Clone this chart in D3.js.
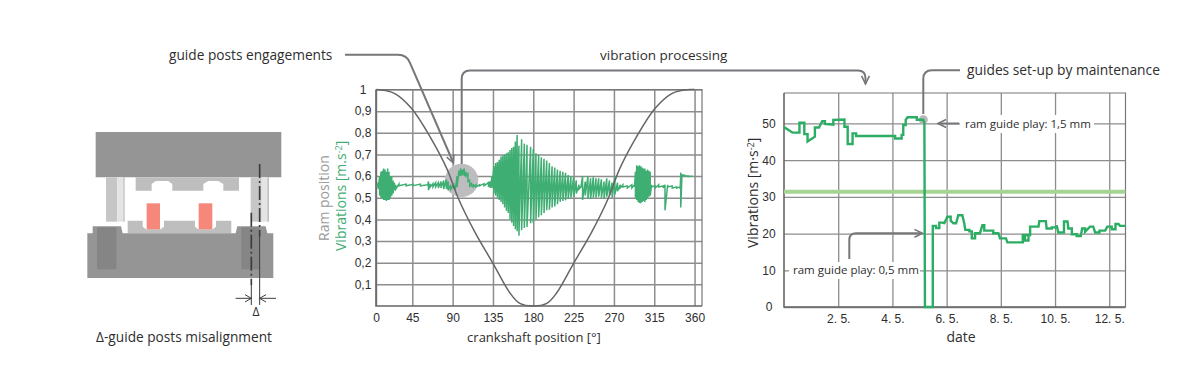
<!DOCTYPE html>
<html>
<head>
<meta charset="utf-8">
<script src="https://cdn.jsdelivr.net/npm/d3@7"></script>
<style>
  html, body { margin: 0; padding: 0; background: #fff; overflow: hidden; }
  svg { display: block; font-family: "Open Sans", sans-serif; }
  text { fill: #2e2e2e; }
</style>
</head>
<body>
<div id="chart"></div>
<script>
// ---- crank chart data (left) ----
const crankTicks = [0, 45, 90, 135, 180, 225, 270, 315, 360];
const ramTicks = [0.1, 0.2, 0.3, 0.4, 0.5, 0.6, 0.7, 0.8, 0.9, 1];

const ramCrank = [5, 15, 26, 44, 65, 84, 96, 115, 135, 154, 165, 180, 195, 206, 225, 245, 264, 276, 295, 316, 334, 345, 355, 360];
const ramValue = [1, 0.995, 0.98, 0.913, 0.78, 0.63, 0.5, 0.34, 0.197, 0.06, 0.012, 0, 0.012, 0.06, 0.197, 0.34, 0.5, 0.63, 0.78, 0.913, 0.98, 0.995, 1, 1];

// each sample is one swing of the accelerometer signal: crank angle, top, bottom
const vibCrank = [5.5, 7, 8.5, 10, 11.5, 13, 14.5, 16, 17.5, 19, 20.5, 22, 23.5, 25, 26.5, 30, 38, 46, 54,
  62, 63, 65, 68, 71, 74, 77, 80, 83, 85, 88, 91, 93, 95, 97, 99, 101, 103, 105, 107, 109, 111, 113, 116, 120, 125, 130, 132,
  134, 136, 138, 140, 142, 144, 146, 148, 150, 152, 154, 156, 158, 160, 162, 164, 167, 170, 173, 177, 180, 183, 186, 189, 192, 195, 198, 201, 204, 207, 210, 213, 216, 219, 222, 225, 228, 231, 233, 235, 238, 241, 244, 247, 250, 253, 256, 259, 262, 265, 268, 271, 274, 277,
  280, 285, 290, 293, 294, 295.5, 297, 298.5, 300, 301.5, 303, 304.5, 306, 307.5, 309, 310.5, 312, 316, 320, 325, 327, 330, 335, 340, 344, 344.6, 346, 349, 353, 357];
const vibHigh = [0.555, 0.57, 0.6, 0.62, 0.625, 0.635, 0.63, 0.62, 0.635, 0.62, 0.6, 0.6, 0.58, 0.57, 0.56, 0.563, 0.563, 0.562, 0.563,
  0.56, 0.575, 0.565, 0.565, 0.57, 0.57, 0.575, 0.58, 0.585, 0.575, 0.56, 0.56, 0.555, 0.6, 0.625, 0.635, 0.63, 0.635, 0.62, 0.61, 0.58, 0.565, 0.56, 0.56, 0.56, 0.565, 0.57, 0.575,
  0.6, 0.645, 0.66, 0.665, 0.675, 0.69, 0.695, 0.7, 0.705, 0.71, 0.72, 0.73, 0.735, 0.76, 0.79, 0.74, 0.77, 0.75, 0.745, 0.735, 0.725, 0.705, 0.7, 0.687, 0.68, 0.672, 0.66, 0.645, 0.64, 0.63, 0.625, 0.62, 0.615, 0.605, 0.6, 0.595, 0.58, 0.56, 0.55, 0.6, 0.575, 0.6, 0.59, 0.595, 0.59, 0.59, 0.585, 0.575, 0.59, 0.58, 0.57, 0.6, 0.57, 0.56,
  0.56, 0.555, 0.56, 0.56, 0.62, 0.65, 0.645, 0.65, 0.645, 0.64, 0.635, 0.635, 0.625, 0.63, 0.625, 0.62, 0.56, 0.555, 0.56, 0.555, 0.56, 0.56, 0.555, 0.55, 0.55, 0.616, 0.61, 0.604, 0.6, 0.599];
const vibLow = [0.55, 0.54, 0.51, 0.5, 0.495, 0.49, 0.49, 0.485, 0.49, 0.49, 0.5, 0.51, 0.52, 0.535, 0.54, 0.555, 0.555, 0.556, 0.555,
  0.555, 0.535, 0.55, 0.55, 0.55, 0.545, 0.545, 0.54, 0.54, 0.535, 0.54, 0.545, 0.54, 0.55, 0.6, 0.6, 0.605, 0.6, 0.6, 0.575, 0.555, 0.555, 0.55, 0.55, 0.555, 0.555, 0.55, 0.545,
  0.545, 0.52, 0.51, 0.5, 0.49, 0.48, 0.47, 0.455, 0.44, 0.43, 0.4, 0.385, 0.37, 0.355, 0.345, 0.325, 0.35, 0.36, 0.365, 0.382, 0.385, 0.4, 0.41, 0.419, 0.43, 0.442, 0.445, 0.455, 0.46, 0.47, 0.481, 0.485, 0.488, 0.495, 0.5, 0.505, 0.52, 0.54, 0.545, 0.49, 0.51, 0.495, 0.495, 0.5, 0.5, 0.505, 0.5, 0.495, 0.505, 0.51, 0.5, 0.515, 0.53, 0.545,
  0.55, 0.545, 0.545, 0.55, 0.5, 0.49, 0.48, 0.476, 0.475, 0.48, 0.485, 0.48, 0.49, 0.495, 0.505, 0.51, 0.55, 0.545, 0.55, 0.545, 0.442, 0.55, 0.545, 0.545, 0.54, 0.455, 0.605, 0.6, 0.598, 0.597];

// ---- vibration trend data (right) ----
const dateTicks = [2, 4, 6, 8, 10, 12];
const dateLabels = ['2. 5.', '4. 5.', '6. 5.', '8. 5.', '10. 5.', '12. 5.'];
const levelTicks = [0, 10, 20, 30, 40, 50];
const limitLevel = 31.4;

const trendDay = [0, 0.32, 0.57, 0.57, 0.75, 0.75, 0.87, 0.87, 1.14, 1.14, 1.29, 1.41, 1.51, 1.51, 1.82, 1.82, 2.23, 2.23, 2.35, 2.35, 2.53, 2.53, 2.66, 2.66, 4.1, 4.1, 4.34, 4.34, 4.4, 4.4, 4.49, 4.49, 4.56, 4.9, 4.9, 5.14, 5.18, 5.2, 5.49,
  5.49, 5.61, 5.61, 5.73, 5.73, 5.9, 5.9, 6.03, 6.15, 6.15, 6.25, 6.35, 6.43, 6.58, 6.65, 6.69, 6.84, 6.84, 6.93, 6.93, 7.05, 7.05, 7.23, 7.32, 7.39, 7.39, 7.72, 7.72, 7.91, 7.97, 8.19, 8.24, 8.81, 8.81, 9.02, 9.02, 8.89, 8.89, 9.08, 9.08, 9.39, 9.42, 9.66, 9.69, 9.88, 9.88, 10.06, 10.06, 10.12, 10.33, 10.33, 10.46, 10.49, 10.62, 10.62, 10.8, 10.8, 10.95, 11, 11.11, 11.11, 11.29, 11.41, 11.48, 11.64, 11.64, 11.85, 11.93, 12.09, 12.09, 12.23, 12.23, 12.34, 12.4, 12.6];
const trendLevel = [49, 47.5, 47.5, 50.2, 50.2, 47.1, 47.1, 45.1, 46.4, 48.9, 48.9, 50.6, 50.6, 49.9, 49.7, 51, 51.1, 49.1, 49.1, 44.4, 44.4, 47.3, 47.3, 46.6, 46.6, 45.9, 45.9, 46.9, 46.9, 49.6, 49.6, 51, 51.7, 51.7, 51, 51, 50, 0, 0,
  22.1, 22.1, 21.5, 21.5, 23, 23, 22.6, 24.6, 24.6, 23.5, 22.8, 22.8, 25, 25, 22.8, 21, 21, 20.6, 20.6, 18.7, 18.7, 20.1, 20.1, 22.3, 22.3, 20.8, 20.8, 20.1, 20.1, 18.7, 18.7, 17.6, 17.6, 19.6, 19.6, 18.1, 18.1, 19.6, 19.6, 21.9, 21.9, 23.4, 23.4, 21.4, 21.4, 21.7, 21.7, 22.3, 20.3, 20.3, 23.3, 23.3, 21.4, 21.4, 19.8, 19.8, 19.3, 19.3, 21.4, 21.4, 20.5, 21.9, 21.9, 20.3, 20.3, 20.8, 20.8, 21.9, 21.9, 21.2, 21.2, 22.6, 22.6, 22.1, 22.1];

const GRID = '#8d8d8d', AXIS = '#666', LEADER = '#77777b', GREEN = '#3fae72', LINE_GREEN = '#2bae63';

const svg = d3.select('#chart').append('svg').attr('width', 1200).attr('height', 369);

// open arrow head whose tip is at x,y, pointing along angle (degrees)
function arrowHead(g, x, y, angle, size = 9) {
  const a = angle * Math.PI / 180, s = 0.45;
  const p = k => [x - size * Math.cos(a + k * s), y - size * Math.sin(a + k * s)];
  const [p1, p2] = [p(1), p(-1)];
  g.append('path').attr('d', `M${p1}L${x},${y}L${p2}`)
    .attr('fill', 'none').attr('stroke', LEADER).attr('stroke-width', 1.6);
}

function leader(g, d, w = 2) {
  g.append('path').attr('d', d).attr('fill', 'none').attr('stroke', LEADER).attr('stroke-width', w);
}

function styleAxis(sel, gridColor, gridW) {
  sel.select('.domain').remove();
  sel.selectAll('.tick line').attr('stroke', gridColor).attr('stroke-width', gridW);
  sel.selectAll('.tick text').attr('font-size', 12).attr('fill', '#2e2e2e');
}

// ---- press tool sketch ----
function drawTool() {
  const g = svg.append('g').attr('transform', 'translate(60,110) scale(0.3333)');
  const poly = (d, fill) => g.append('path').attr('d', d).attr('fill', fill);
  const dark = '#959595', mid = '#bebebe', pale = '#e4e4e4', red = '#f5887b';

  poly('M107,66H664V202H107Z', dark);
  poly('M138,202H172V335H138Z', '#c6c6c6');
  poly('M172,202H190V335H172Z', pale);
  poly('M190,202H194V335H190Z', mid);
  poly('M572,202H605V335H572Z', '#c6c6c6');
  poly('M605,202H622V335H605Z', pale);
  poly('M622,202H627V335H622Z', mid);
  poly('M227,202H537V242H490V222L475,213H445L430,222V242H337V222L325,213H287L275,222V242H227Z', mid);
  poly('M203,332H248V350L258,358H302L312,350V332H405V350L415,358H458L468,350V332H514V370H203Z', mid);
  poly('M260,280H300V358H260Z', red);
  poly('M416,280H457V358H416Z', red);
  poly('M82,370H98V349H183L188,370H527L532,349H617L622,370H640V504H82Z', dark);
  poly('M111,352H169V478H111Z', '#858585');
  poly('M544,352H600V478H544Z', '#858585');

  const axisLine = (x, y0, y1, dash, w) => g.append('line')
    .attr('x1', x).attr('x2', x).attr('y1', y0).attr('y2', y1)
    .attr('stroke', '#3c3c3c').attr('stroke-width', w).attr('stroke-dasharray', dash);
  axisLine(599, 162, 380, '42 9 6 9', 5);
  axisLine(599, 380, 585, null, 3);
  axisLine(574, 308, 525, '42 9 6 9', 5);
  axisLine(574, 525, 585, null, 3);

  const dim = g.append('g').attr('fill', 'none').attr('stroke', '#3c3c3c').attr('stroke-width', 3);
  dim.append('path').attr('d', 'M527,565H574M555,554L574,565L555,576');
  dim.append('path').attr('d', 'M648,565H599M618,554L599,565L618,576');

  svg.append('text').attr('x', 256).attr('y', 316).attr('text-anchor', 'middle').attr('font-size', 12).text('Δ');
  svg.append('text').attr('x', 184).attr('y', 342).attr('text-anchor', 'middle').attr('font-size', 13.7).text('Δ-guide posts misalignment');
}

// ---- crank position chart ----
function drawCrank() {
  const L = 376, R = 702, T = 89.5, B = 306;
  const x = d3.scaleLinear().domain([4.46, 368.3]).range([L, R]).clamp(true);
  const y = d3.scaleLinear().domain([0, 1]).range([B, T]);
  const g = svg.append('g');

  g.append('g').attr('transform', `translate(0,${B})`)
    .call(d3.axisBottom(x).tickValues(crankTicks).tickSizeInner(-(B - T)).tickSizeOuter(0).tickPadding(7).tickFormat(d3.format('d')))
    .call(styleAxis, GRID, 1.5);
  g.append('g').attr('transform', `translate(${L},0)`)
    .call(d3.axisLeft(y).tickValues(ramTicks).tickSizeInner(-(R - L)).tickSizeOuter(0).tickPadding(5)
      .tickFormat(d => String(d).replace('.', ',')))
    .call(styleAxis, GRID, 1.5)
    .call(s => s.selectAll('.tick text').attr('text-anchor', 'middle').attr('x', -13));

  g.append('path').attr('d', `M${L},${T}H${R}V${B}`).attr('fill', 'none').attr('stroke', '#777').attr('stroke-width', 1.2);
  g.append('path').attr('d', `M${L},${T}V${B}H${R}`).attr('fill', 'none').attr('stroke', AXIS).attr('stroke-width', 1.6);

  // engagement marker
  g.append('circle').attr('cx', x(100)).attr('cy', y(0.58)).attr('r', 16.7).attr('fill', '#bdbdbf');

  const vibPts = vibCrank.flatMap((d, i) => [[d, vibHigh[i]], [d, vibLow[i]]]);
  g.append('path').datum(vibPts)
    .attr('d', d3.line().x(d => x(d[0])).y(d => y(d[1])))
    .attr('fill', 'none').attr('stroke', GREEN).attr('stroke-width', 1.5);

  g.append('path').datum(ramCrank.map((d, i) => [d, ramValue[i]]))
    .attr('d', d3.line().x(d => x(d[0])).y(d => y(d[1])).curve(d3.curveCatmullRom))
    .attr('fill', 'none').attr('stroke', '#66666a').attr('stroke-width', 1.5);

  svg.append('text').attr('transform', 'translate(329,241) rotate(-90)').attr('font-size', 14)
    .style('fill', '#9b9b9b').text('Ram position');
  const v = svg.append('text').attr('transform', 'translate(346,251) rotate(-90)').attr('font-size', 14)
    .style('fill', GREEN).text('Vibrations [m.s');
  v.append('tspan').attr('dy', -4).attr('font-size', 9).style('fill', GREEN).text('-2');
  v.append('tspan').attr('dy', 4).style('fill', GREEN).text(']');

  svg.append('text').attr('x', 534).attr('y', 342).attr('text-anchor', 'middle').attr('font-size', 13).text('crankshaft position [°]');
}

// ---- vibration trend chart ----
function drawTrend() {
  const L = 784, R = 1125.5, T = 93, B = 307;
  const x = d3.scaleLinear().domain([0, 12.6]).range([L, R]);
  const y = d3.scaleLinear().domain([0, 58.3]).range([B, T]);
  const g = svg.append('g');

  g.append('g').attr('transform', `translate(0,${B})`)
    .call(d3.axisBottom(x).tickValues(dateTicks).tickSizeInner(-(B - T)).tickSizeOuter(0).tickPadding(7)
      .tickFormat((d, i) => dateLabels[i]))
    .call(styleAxis, GRID, 1.3);
  g.append('g').attr('transform', `translate(${L},0)`)
    .call(d3.axisLeft(y).tickValues(levelTicks).tickSizeInner(-(R - L)).tickSizeOuter(0).tickPadding(9))
    .call(styleAxis, GRID, 1.3)
    .call(s => s.selectAll('.tick text').attr('text-anchor', 'middle').attr('x', -15));

  g.append('path').attr('d', `M${L},${T}H${R}V${B}`).attr('fill', 'none').attr('stroke', '#777').attr('stroke-width', 1.2);
  g.append('path').attr('d', `M${L},${T}V${B}H${R}`).attr('fill', 'none').attr('stroke', AXIS).attr('stroke-width', 1.6);

  g.append('line').attr('x1', L).attr('x2', R).attr('y1', y(limitLevel)).attr('y2', y(limitLevel))
    .attr('stroke', '#a5d494').attr('stroke-width', 4);

  g.append('circle').attr('cx', x(5.14)).attr('cy', y(51)).attr('r', 4.5).attr('fill', '#b8b8ba');

  g.append('path').datum(trendDay.map((d, i) => [d, trendLevel[i]]))
    .attr('d', d3.line().x(d => x(d[0])).y(d => y(d[1])))
    .attr('fill', 'none').attr('stroke', LINE_GREEN).attr('stroke-width', 2.4);

  // white blocks keep the grid off the inline notes
  g.append('rect').attr('x', 960).attr('y', 115).attr('width', 134).attr('height', 18).attr('fill', '#fff');
  g.append('rect').attr('x', 789).attr('y', 262).attr('width', 131).attr('height', 17).attr('fill', '#fff');
  svg.append('text').attr('x', 965).attr('y', 128).attr('font-size', 11.5).text('ram guide play: 1,5 mm');
  svg.append('text').attr('x', 793).attr('y', 274).attr('font-size', 11.5).text('ram guide play: 0,5 mm');

  const v = svg.append('text').attr('transform', 'translate(758,248) rotate(-90)').attr('font-size', 14).text('Vibrations [m·s');
  v.append('tspan').attr('dy', -4).attr('font-size', 9).text('-2');
  v.append('tspan').attr('dy', 4).text(']');
  svg.append('text').attr('x', 961).attr('y', 342).attr('text-anchor', 'middle').attr('font-size', 14).text('date');
}

function drawNotes() {
  const g = svg.append('g');
  svg.append('text').attr('x', 169).attr('y', 60).attr('font-size', 13.7).text('guide posts engagements');
  svg.append('text').attr('x', 600).attr('y', 60).attr('font-size', 13.5).text('vibration processing');
  svg.append('text').attr('x', 967).attr('y', 75).attr('font-size', 13.8).text('guides set-up by maintenance');

  leader(g, 'M345,54.7H398Q407,54.7 410,63L453,162');
  arrowHead(g, 453.5, 163, 67);
  leader(g, 'M461.7,164V79Q461.7,70.5 470,70.5H858Q865.5,70.5 865.5,78V84');
  arrowHead(g, 865.5, 84, 90);
  leader(g, 'M923.3,114V79Q923.3,70.3 932,70.3H960');
  leader(g, 'M959,123.5H938');
  arrowHead(g, 938, 123.5, 180);
  leader(g, 'M849.3,259V240Q849.3,233.3 856,233.3H922');
  arrowHead(g, 922.5, 233.3, 0);
}

drawTool();
drawCrank();
drawTrend();
drawNotes();
</script>
</body>
</html>
